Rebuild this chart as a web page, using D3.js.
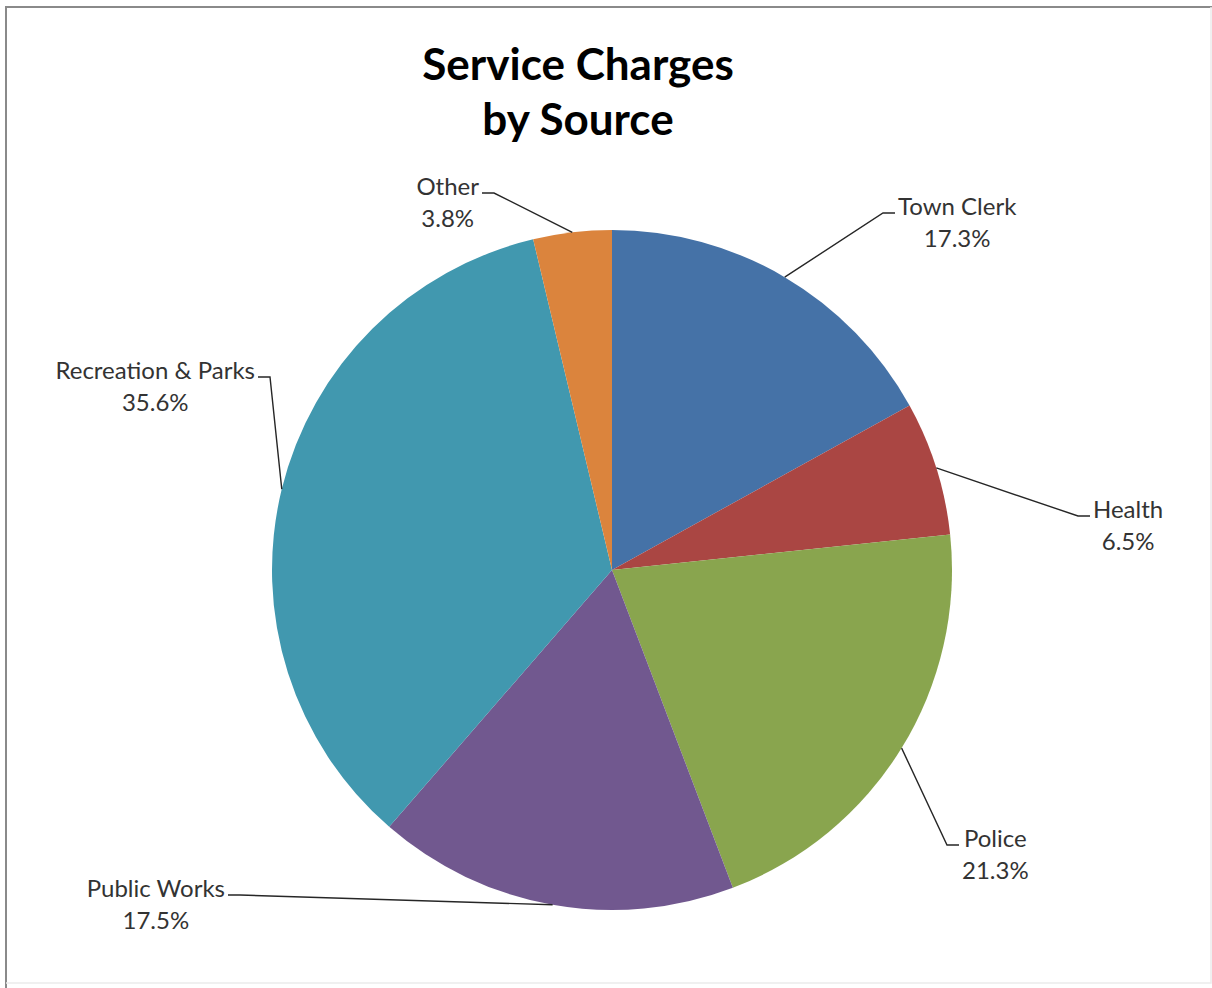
<!DOCTYPE html>
<html>
<head>
<meta charset="utf-8">
<script src="https://cdn.jsdelivr.net/npm/d3@7/dist/d3.min.js"></script>
<style>
  html, body { margin: 0; padding: 0; background: #fff; }
  svg { display: block; }
</style>
</head>
<body>
<svg id="chart" width="1212" height="988"></svg>
<script>
// Service charge sources, clockwise from 12 o'clock
const categories = ["Town Clerk", "Health", "Police", "Public Works", "Recreation & Parks", "Other"];
const shares = [17.3, 6.5, 21.3, 17.5, 35.6, 3.8];
const sliceColors = ["#4572A7", "#AA4643", "#89A54E", "#71588F", "#4198AF", "#DB843D"];
const titleLines = ["Service Charges", "by Source"];

// Label elbow points relative to the pie centre, and which side the text sits on
const labelAnchors = [[271, -357], [466, -54], [335, 275], [-372, 325], [-342, -193], [-118, -377]];
const labelSides = ["right", "right", "right", "left", "left", "left"];

const W = 1212, H = 988;
const cx = 612, cy = 570, R = 340;
const svg = d3.select("#chart");

// outer frame
svg.append("path")
  .attr("d", `M6,${H} L6,7 L${W},7`)
  .attr("fill", "none").attr("stroke", "#8a8a8a").attr("stroke-width", 2);
svg.append("path")
  .attr("d", `M6,983 L${W - 1},983 L${W - 1},7`)
  .attr("fill", "none").attr("stroke", "#ececec").attr("stroke-width", 1.5);

// title
const title = svg.append("text")
  .attr("text-anchor", "middle")
  .attr("font-family", "Lato, 'Noto Sans', sans-serif")
  .attr("font-weight", "bold")
  .attr("font-size", 44)
  .attr("fill", "#000");
titleLines.forEach((t, i) => {
  title.append("tspan").attr("x", 578).attr("y", 80 + i * 55).text(t);
});

const data = categories.map((c, i) => ({ name: c, value: shares[i], color: sliceColors[i], i }));

const pie = d3.pie().sort(null).value(d => d.value);
const arcs = pie(data);
const arc = d3.arc().innerRadius(0).outerRadius(R);

const g = svg.append("g").attr("transform", `translate(${cx},${cy})`);

g.selectAll("path.slice")
  .data(arcs)
  .join("path")
  .attr("class", "slice")
  .attr("d", arc)
  .attr("fill", d => d.data.color);

// data labels with leader lines
const fmt = d3.format(".1f");
const tick = 12;
arcs.forEach(a => {
  const i = a.data.i;
  const mid = (a.startAngle + a.endAngle) / 2;
  const sx = Math.sin(mid) * R, sy = -Math.cos(mid) * R;
  const [ex, ey] = labelAnchors[i];
  const dir = labelSides[i] === "right" ? 1 : -1;
  const tx = ex + dir * tick;

  g.append("polyline")
    .attr("points", `${sx},${sy} ${ex},${ey} ${tx},${ey}`)
    .attr("fill", "none")
    .attr("stroke", "#262626")
    .attr("stroke-width", 1.4);

  const lbl = g.append("text")
    .attr("font-family", "Lato, 'Noto Sans', sans-serif")
    .attr("font-size", 24)
    .attr("fill", "#333")
    .attr("text-anchor", "middle");
  const l1 = lbl.append("tspan").text(a.data.name);
  const l2 = lbl.append("tspan").text(fmt(a.data.value) + "%");
  const w = Math.max(l1.node().getComputedTextLength(), l2.node().getComputedTextLength());
  const centerX = tx + dir * (3 + w / 2);
  l1.attr("x", centerX).attr("y", ey + 2);
  l2.attr("x", centerX).attr("y", ey + 34);
});
</script>
</body>
</html>
